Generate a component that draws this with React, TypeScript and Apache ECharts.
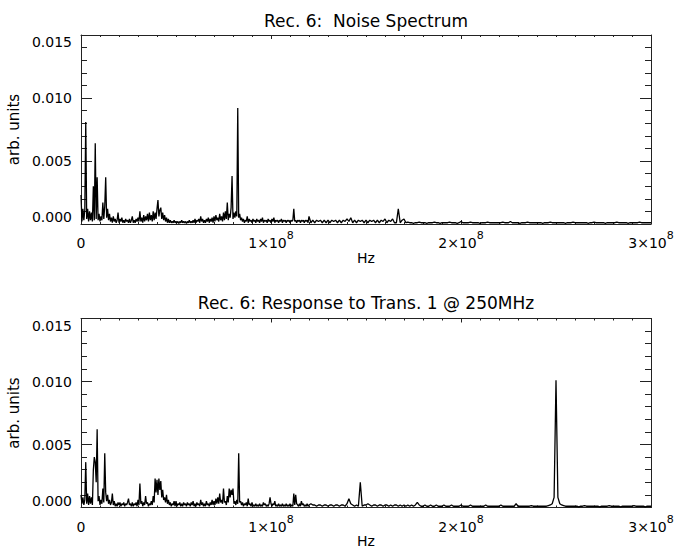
import React, { useEffect, useRef } from "react";
import * as echarts from "echarts";

// Each spectrum is stored as two bands: a fine band (0–120 MHz, 0.5 MHz steps)
// and a coarse band (121–300 MHz, 1 MHz steps). Values are in units of 1e-4 (arb. units).
const LOW_BAND_START_MHZ = 0;
const LOW_BAND_STEP_MHZ = 0.5;
const HIGH_BAND_START_MHZ = 121;
const HIGH_BAND_STEP_MHZ = 1;

// Rec. 6: Noise Spectrum
const noiseLowE4 = [
  23, 2, 12, 3, 11, 81, 4, 12, 2, 10,
  3, 9, 2, 30, 3, 64, 4, 37, 3, 8,
  2, 6, 3, 17, 4, 14, 37, 5, 12, 3,
  8, 2, 5, 1, 6, 2, 4, 1, 3, 9,
  1, 4, 2, 5, 1, 3, 1, 4, 2, 3,
  1, 4, 1, 3, 6, 1, 3, 1, 4, 2,
  5, 2, 10, 2, 5, 1, 7, 2, 6, 3,
  8, 2, 9, 3, 7, 2, 10, 3, 9, 4,
  12, 19, 6, 11, 13, 4, 9, 3, 7, 2,
  5, 1, 4, 1, 3, 1, 2, 1, 3, 1,
  2, 1, 2, 0.5, 2, 1, 3, 1, 2, 1,
  2, 0.5, 2, 1, 3, 1, 2, 1, 3, 1,
  4, 1, 3, 2, 4, 1, 6, 2, 4, 1,
  3, 1, 4, 2, 5, 1, 4, 2, 5, 1,
  6, 2, 7, 3, 5, 2, 8, 3, 6, 2,
  9, 3, 10, 4, 17, 3, 8, 5, 13, 38,
  4, 9, 5, 10, 6, 92, 5, 8, 3, 5,
  2, 4, 1, 3, 2, 6, 1, 4, 2, 3,
  1, 4, 2, 3, 1, 4, 2, 3, 1, 4,
  2, 5, 1, 3, 2, 3, 1, 4, 2, 3,
  1, 4, 2, 5, 1, 3, 2, 3, 1, 3,
  2, 4, 1, 3, 2, 3, 1, 3, 2, 3,
  1, 3, 2, 3, 12, 2, 3, 1, 3, 2,
  3, 1, 3, 2, 3, 1, 3, 2, 3, 1,
  6,
];
const noiseHighE4 = [
  1, 3, 1, 3, 2, 3, 1, 3, 1,
  3, 1, 3, 2, 3, 1, 3, 1, 3, 2,
  4, 2, 5, 1, 3, 1, 3, 2, 3, 1,
  3, 1, 3, 2, 3, 1, 3, 1, 3, 2,
  4, 1, 3, 2, 4, 1, 1, 12, 1, 3,
  4, 1, 1.5, 1, 1, 0.5, 1, 1, 1.5, 1,
  1, 1, 0.5, 1, 1, 1, 1.5, 1, 1, 0.5,
  1, 1, 1, 1, 1.5, 1, 1, 1, 0.5, 1,
  2, 1, 1, 1, 1, 1.5, 1, 1, 1, 1,
  0.5, 1, 1, 1, 1.5, 1, 1, 1, 1, 1,
  1, 1, 1.5, 1, 1, 1, 2, 1, 1, 1,
  1, 0.5, 1, 1, 1, 1.5, 1, 1, 1, 1,
  1, 1, 1, 0.5, 1, 1, 1, 1.5, 1, 1,
  1, 1, 1, 1, 1, 0.5, 1, 1, 1, 1.5,
  1, 1, 1, 1, 1, 1, 1, 0.5, 1, 1,
  1.5, 1, 1, 1, 1, 1, 0.5, 1, 1, 1,
  1, 1, 1.5, 1, 1, 1, 1, 1, 0.5, 1,
  1, 1, 1, 1, 1.5, 1, 1, 1, 1, 1, 1,
];

// Rec. 6: Response to Trans. 1 @ 250MHz
const responseLowE4 = [
  10, 3, 8, 2, 6, 36, 3, 11, 2, 9,
  3, 8, 2, 30, 40, 36, 20, 62, 5, 9,
  2, 6, 3, 15, 4, 43, 12, 5, 10, 3,
  6, 2, 4, 11, 2, 5, 1, 3, 1, 4,
  2, 4, 1, 3, 2, 4, 1, 3, 2, 4,
  7, 2, 3, 1, 4, 1, 3, 2, 4, 1,
  6, 2, 19, 3, 5, 1, 4, 2, 9, 3,
  4, 1, 3, 2, 5, 2, 9, 4, 23, 12,
  22, 10, 23, 14, 21, 8, 14, 6, 8, 4,
  10, 3, 6, 2, 4, 1, 3, 2, 5, 1,
  5, 1, 3, 2, 4, 1, 3, 1, 4, 2,
  3, 1, 4, 2, 3, 1, 4, 2, 5, 1,
  3, 1, 4, 2, 3, 1, 6, 2, 4, 1,
  3, 1, 5, 2, 3, 1, 4, 2, 6, 2,
  5, 2, 7, 3, 8, 3, 11, 4, 6, 3,
  15, 4, 5, 2, 9, 4, 15, 8, 14, 10,
  15, 3, 5, 2, 6, 3, 43, 4, 5, 2,
  4, 1, 3, 2, 4, 1, 7, 2, 3, 1,
  4, 1, 2, 1, 3, 1, 2, 1, 3, 1,
  2, 1, 4, 2, 3, 1, 2, 1, 3, 8,
  3, 1, 3, 2, 5, 1, 2, 1, 3, 1,
  2, 1, 3, 1, 2, 1, 3, 1, 2, 1,
  3, 1, 2, 1, 11, 2, 10, 3, 2, 1,
  3, 1, 5, 2, 3, 1, 2, 1, 3, 1,
  2,
];
const responseHighE4 = [
  3, 2, 2, 1, 2, 2, 1, 2, 2,
  1, 2, 2, 1, 2, 2, 1, 2, 2, 1,
  3, 7, 3, 2, 1, 2, 1, 20, 1, 2,
  2, 3, 2, 1, 2, 2, 1, 2, 2, 1,
  2, 2, 1, 2, 1, 2, 2, 1, 2, 1,
  2, 1, 2, 1, 2, 1, 2, 4, 2, 1,
  1, 2, 1, 1, 2, 1, 1, 2, 1, 1,
  1, 2, 1, 1, 1, 2, 1, 1, 1, 1,
  2, 1, 1, 1, 1, 2, 1, 1, 1, 1,
  1, 1, 1, 2, 1, 1, 1, 1, 1, 1,
  1, 2, 1, 1, 1, 1, 1, 1, 1, 3,
  1, 1, 1, 1, 1, 1, 1, 1.5, 1, 1,
  1, 1, 1, 1, 1, 1, 1.5, 2, 3, 8,
  101, 8, 3, 2, 1.5, 1, 1, 1, 1, 1,
  1, 1, 0.5, 1, 1, 1.5, 1, 1, 1, 1,
  1, 1, 1, 0.5, 1, 1, 1, 1, 1.5, 1,
  1, 1, 1, 1, 0.5, 1, 1, 1, 1, 1,
  1, 1.5, 1, 1, 1, 1, 1, 0.5, 1, 1, 1,
];

const panelTitles = ["Rec. 6:  Noise Spectrum", "Rec. 6: Response to Trans. 1 @ 250MHz"];
const xAxisName = "Hz";
const yAxisName = "arb. units";
const xRange = [0, 3e8];
const xTickStep = 1e8;
const xTickMantissas = ["0", "1", "2", "3"]; // labels: 0, 1×10^8, 2×10^8, 3×10^8
const xTickExponent = "8";
const yRange = [0, 0.015];
const yTickStep = 0.005;

const FONT = "DejaVu Sans";
const INK = "#000";
const AXIS = "#222";

const PLOT_LEFT = 81;
const PLOT_WIDTH = 570;
const PLOT_HEIGHT = 189;
const PANEL_TOPS = [35, 318.5];
const TITLE_Y = [21, 303];

function toSeries(lowE4: number[], highE4: number[]) {
  const pts: number[][] = [];
  lowE4.forEach((v, i) => pts.push([(LOW_BAND_START_MHZ + i * LOW_BAND_STEP_MHZ) * 1e6, v * 1e-4]));
  highE4.forEach((v, i) => pts.push([(HIGH_BAND_START_MHZ + i * HIGH_BAND_STEP_MHZ) * 1e6, v * 1e-4]));
  return pts;
}

function xLabel(v: number) {
  const idx = Math.round(v / xTickStep);
  const m = xTickMantissas[idx] ?? "";
  if (m === "0") return "{n|0}";
  return `{n|${m}×10}{s|${xTickExponent}}`;
}

export default function App() {
  const ref = useRef<HTMLDivElement>(null);
  useEffect(() => {
    if (!ref.current) return;
    const chart = echarts.init(ref.current, undefined, { renderer: "svg" });
    const lineStyle = { color: AXIS, width: 1 };
    const grids = PANEL_TOPS.map((top) => ({
      left: PLOT_LEFT,
      width: PLOT_WIDTH,
      top,
      height: PLOT_HEIGHT,
      containLabel: false,
      outerBoundsMode: "none",
    }));
    const xAxes: any[] = [];
    const yAxes: any[] = [];
    PANEL_TOPS.forEach((_, g) => {
      const commonX = {
        type: "value",
        gridIndex: g,
        min: xRange[0],
        max: xRange[1],
        interval: xTickStep,
        axisLine: { show: true, onZero: false, lineStyle },
        axisTick: { show: true, inside: true, length: 4, lineStyle },
        minorTick: { show: true, splitNumber: 10, length: 2, lineStyle },
        splitLine: { show: false },
        minorSplitLine: { show: false },
      };
      xAxes.push({
        ...commonX,
        position: "bottom",
        name: xAxisName,
        nameLocation: "middle",
        nameGap: 25,
        nameTextStyle: { fontFamily: FONT, fontSize: 14, color: INK },
        axisLabel: {
          margin: 6,
          formatter: xLabel,
          rich: {
            n: { fontFamily: FONT, fontSize: 14, color: INK, lineHeight: 26 },
            s: { fontFamily: FONT, fontSize: 11, color: INK, lineHeight: 8, verticalAlign: "top" },
          },
        },
      });
      xAxes.push({ ...commonX, position: "top", axisLabel: { show: false } });
      const commonY = {
        type: "value",
        gridIndex: g,
        min: yRange[0],
        max: yRange[1],
        interval: yTickStep,
        axisLine: { show: true, onZero: false, lineStyle },
        axisTick: { show: true, inside: true, length: 11, lineStyle },
        minorTick: { show: true, splitNumber: 5, length: 6, lineStyle },
        splitLine: { show: false },
        minorSplitLine: { show: false },
      };
      yAxes.push({
        ...commonY,
        position: "left",
        name: yAxisName,
        nameLocation: "middle",
        nameGap: 52,
        nameTextStyle: { fontFamily: FONT, fontSize: 15, color: INK },
        axisLabel: {
          margin: 9,
          fontFamily: FONT,
          fontSize: 14,
          color: INK,
          formatter: (v: number) => v.toFixed(3),
          verticalAlignMinLabel: "bottom",
          verticalAlignMaxLabel: "top",
        },
      });
      yAxes.push({ ...commonY, position: "right", axisLabel: { show: false } });
    });

    chart.setOption({
      animation: false,
      backgroundColor: "#fff",
      textStyle: { fontFamily: FONT },
      grid: grids,
      xAxis: xAxes,
      yAxis: yAxes,
      graphic: panelTitles.map((t, i) => ({
        type: "text",
        x: PLOT_LEFT + PLOT_WIDTH / 2,
        y: TITLE_Y[i],
        style: {
          text: t,
          fontFamily: FONT,
          fontSize: 17,
          fill: INK,
          align: "center",
          verticalAlign: "middle",
        },
      })),
      series: [
        [noiseLowE4, noiseHighE4],
        [responseLowE4, responseHighE4],
      ].map(([lo, hi], i) => ({
        type: "line",
        xAxisIndex: i * 2,
        yAxisIndex: i * 2,
        data: toSeries(lo, hi),
        showSymbol: false,
        symbol: "none",
        silent: true,
        lineStyle: { color: INK, width: 1.3 },
      })),
    });
    return () => chart.dispose();
  }, []);
  return (
    <div
      ref={ref}
      style={{ position: "fixed", left: 0, top: 0, width: 678, height: 553, background: "#fff" }}
    />
  );
}
